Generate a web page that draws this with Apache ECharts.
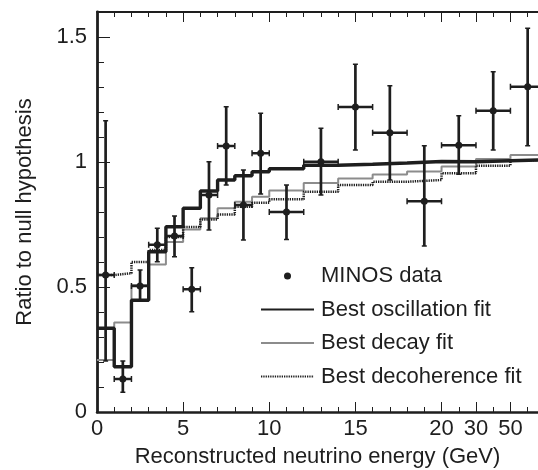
<!DOCTYPE html>
<html>
<head>
<meta charset="utf-8">
<script src="https://cdn.jsdelivr.net/npm/echarts@6/dist/echarts.min.js"></script>
<style>html,body{margin:0;padding:0;background:#fff;}#c{width:538px;height:470px;}</style>
</head>
<body>
<div id="c"></div>
<script>
// Display coordinate: linear in GeV up to 20, compressed beyond (20, 30, 50 at 20, 22, 24)
const tickPositions = [0, 5, 10, 15, 20, 22, 24];
const tickLabels = ['0', '5', '10', '15', '20', '30', '50'];
const yTickValues = [0, 0.5, 1, 1.5];

const binEdges = [0,1,2,3,4,5,6,7,8,9,10,12,14,16,18,20,22,24,26];
const oscFit   = [0.335,0.181,0.447,0.641,0.741,0.815,0.884,0.928,0.945,0.961,0.973,0.987,0.991,0.996,1.002,1.001,1.005,1.009];
const decayFit = [0.208,0.358,0.508,0.590,0.680,0.730,0.775,0.815,0.841,0.861,0.886,0.916,0.934,0.950,0.962,0.982,1.012,1.028];
const decohFit = [0.548,0.555,0.600,0.648,0.700,0.740,0.770,0.790,0.821,0.837,0.851,0.881,0.908,0.921,0.928,0.955,0.985,1.007];

const dataX     = [0.5,1.5,2.5,3.5,4.5,5.5,6.5,7.5,8.5,9.5,11,13,15,17,19,21,23,25];
const dataY     = [0.548,0.132,0.504,0.669,0.704,0.491,0.868,1.064,0.828,1.035,0.800,1.001,1.220,1.117,0.843,1.067,1.205,1.301];
const dataYLow  = [0.204,0.079,0.444,0.601,0.621,0.401,0.728,0.908,0.688,0.872,0.690,0.868,1.048,0.928,0.664,0.951,1.048,1.065];
const dataYHigh = [1.165,0.204,0.568,0.735,0.784,0.577,1.001,1.221,0.968,1.195,0.908,1.135,1.391,1.305,1.065,1.185,1.361,1.535];

const FONT = "'Liberation Sans', Arial, Helvetica, sans-serif";
const INK = '#1e1e1e';
const GRAY = '#8c8c8c';

function stepData(vals) {
  return binEdges.map((e, i) => [e, vals[Math.min(i, vals.length - 1)]]);
}
const errData = dataX.map((x, i) => [x, dataY[i], binEdges[i], binEdges[i + 1], dataYLow[i], dataYHigh[i]]);

const chart = echarts.init(document.getElementById('c'), null, {renderer: 'canvas'});

const xMax = 25.6;
function labelFor(v) {
  const k = tickPositions.findIndex(p => Math.abs(p - v) < 1e-6);
  return k >= 0 ? tickLabels[k] : '';
}

const baseX = {
  type: 'value', min: 0, max: xMax, gridIndex: 0,
  splitLine: {show: false}
};
const hiddenSymbol = {color: 'rgba(0,0,0,0)', opacity: 0, borderWidth: 0};

const option = {
  animation: false,
  backgroundColor: '#fff',
  textStyle: {fontFamily: FONT},
  grid: {left: 97, right: 0, top: 12, bottom: 58, containLabel: false, outerBoundsMode: 'none'},
  legend: {
    orient: 'vertical', left: 255, top: 259,
    itemWidth: 53, itemHeight: 7, itemGap: 9.5,
    textStyle: {fontFamily: FONT, fontSize: 22, color: INK, lineHeight: 24, padding: [0, 0, 0, 2]},
    data: [
      {name: 'MINOS data', icon: 'circle'},
      {name: 'Best oscillation fit', itemStyle: hiddenSymbol},
      {name: 'Best decay fit', itemStyle: hiddenSymbol},
      {name: 'Best decoherence fit', itemStyle: hiddenSymbol}
    ],
    selectedMode: false
  },
  xAxis: [
    Object.assign({}, baseX, {
      position: 'bottom', interval: 1,
      name: 'Reconstructed neutrino energy (GeV)', nameLocation: 'middle', nameGap: 34,
      nameMoveOverlap: false,
      nameTextStyle: {fontFamily: FONT, fontSize: 22, color: INK},
      axisLine: {show: true, lineStyle: {color: INK, width: 2.5}},
      axisTick: {show: true, inside: true, length: 5, lineStyle: {color: INK, width: 1}},
      axisLabel: {show: false}
    }),
    Object.assign({}, baseX, {
      position: 'bottom', interval: 1,
      axisLine: {show: false},
      axisTick: {show: true, inside: true, length: 10, customValues: tickPositions, lineStyle: {color: INK, width: 1}},
      axisLabel: {show: true, customValues: tickPositions, formatter: labelFor, margin: 6,
                  fontFamily: FONT, fontSize: 22, color: INK}
    }),
    Object.assign({}, baseX, {
      position: 'top', interval: 1,
      axisLine: {show: true, lineStyle: {color: INK, width: 2}},
      axisTick: {show: true, inside: true, length: 5, lineStyle: {color: INK, width: 1}},
      axisLabel: {show: false}
    }),
    Object.assign({}, baseX, {
      position: 'top', interval: 1,
      axisLine: {show: false},
      axisTick: {show: true, inside: true, length: 10, customValues: tickPositions, lineStyle: {color: INK, width: 1}},
      axisLabel: {show: false}
    })
  ],
  yAxis: [
    {
      type: 'value', min: 0, max: 1.6, interval: 0.1, position: 'left',
      name: 'Ratio to null hypothesis', nameLocation: 'middle', nameGap: 61, nameRotate: 90,
      nameMoveOverlap: false,
      nameTextStyle: {fontFamily: FONT, fontSize: 22, color: INK},
      splitLine: {show: false},
      axisLine: {show: true, lineStyle: {color: INK, width: 2.8}},
      axisTick: {show: true, inside: true, length: 7, lineStyle: {color: INK, width: 1}},
      axisLabel: {show: false}
    },
    {
      type: 'value', min: 0, max: 1.6, interval: 0.1, position: 'left',
      splitLine: {show: false},
      axisLine: {show: false},
      axisTick: {show: true, inside: true, length: 13, customValues: yTickValues, lineStyle: {color: INK, width: 1}},
      axisLabel: {show: true, customValues: yTickValues, margin: 10,
                  formatter: v => String(v), fontFamily: FONT, fontSize: 22, color: INK}
    }
  ],
  series: [
    {
      name: 'Best decay fit', type: 'line', step: 'end', xAxisIndex: 0, yAxisIndex: 0,
      data: stepData(decayFit), symbol: 'none', showSymbol: false, z: 2,
      itemStyle: {color: GRAY},
      lineStyle: {color: GRAY, width: 2}
    },
    {
      name: 'Best decoherence fit', type: 'line', step: 'end', xAxisIndex: 0, yAxisIndex: 0,
      data: stepData(decohFit), symbol: 'none', showSymbol: false, z: 3,
      itemStyle: {color: INK},
      lineStyle: {color: INK, width: 2.5, type: [1.3, 1]}
    },
    {
      name: 'Best oscillation fit', type: 'line', step: 'end', xAxisIndex: 0, yAxisIndex: 0,
      data: stepData(oscFit), symbol: 'none', showSymbol: false, z: 4,
      itemStyle: {color: INK},
      lineStyle: {color: INK, width: 3.4}
    },
    {
      name: 'MINOS data', type: 'custom', xAxisIndex: 0, yAxisIndex: 0, z: 5, clip: true,
      itemStyle: {color: INK},
      encode: {x: [0, 2, 3], y: [1, 4, 5]},
      data: errData,
      renderItem: function (params, api) {
        const x = api.value(0), y = api.value(1);
        const c = api.coord([x, y]);
        const l = api.coord([api.value(2), y]);
        const r = api.coord([api.value(3), y]);
        const lo = api.coord([x, api.value(4)]);
        const hi = api.coord([x, api.value(5)]);
        const s = {stroke: INK, lineWidth: 2.5};
        const cap = 2.5, hcap = 3;
        return {
          type: 'group',
          children: [
            {type: 'line', shape: {x1: l[0], y1: c[1], x2: r[0], y2: c[1]}, style: s},
            {type: 'line', shape: {x1: l[0], y1: c[1] - hcap, x2: l[0], y2: c[1] + hcap}, style: {stroke: INK, lineWidth: 1.5}},
            {type: 'line', shape: {x1: r[0], y1: c[1] - hcap, x2: r[0], y2: c[1] + hcap}, style: {stroke: INK, lineWidth: 1.5}},
            {type: 'line', shape: {x1: c[0], y1: lo[1], x2: c[0], y2: hi[1]}, style: {stroke: INK, lineWidth: 2.7}},
            {type: 'line', shape: {x1: c[0] - cap, y1: lo[1], x2: c[0] + cap, y2: lo[1]}, style: {stroke: INK, lineWidth: 1.5}},
            {type: 'line', shape: {x1: c[0] - cap, y1: hi[1], x2: c[0] + cap, y2: hi[1]}, style: {stroke: INK, lineWidth: 1.5}},
            {type: 'circle', shape: {cx: c[0], cy: c[1], r: 3.5}, style: {fill: INK}}
          ]
        };
      }
    }
  ]
};
chart.setOption(option);
</script>
</body>
</html>
